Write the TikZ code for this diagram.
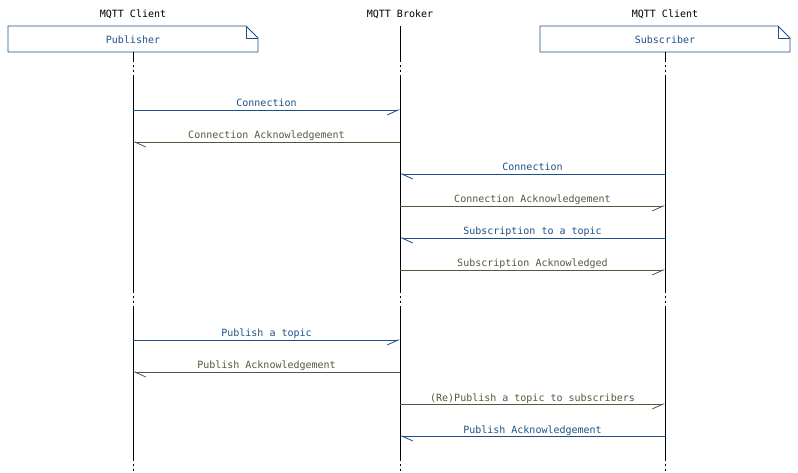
\documentclass[tikz,border=0pt]{standalone}
\usepackage{fontspec}
\setmonofont{DejaVu Sans Mono}
\usetikzlibrary{arrows.meta}
\definecolor{mblue}{RGB}{30,80,135}
\definecolor{molive}{RGB}{88,86,62}
\begin{document}
\begin{tikzpicture}[x=1bp,y=-1bp,
  font=\ttfamily\fontsize{10bp}{12bp}\selectfont,
  life/.style={black, line width=0.9bp},
  lifedash/.style={black, line width=0.9bp, dash pattern=on 2bp off 3bp},
  notebox/.style={mblue, line width=0.9bp},
  head/.style={anchor=base, inner sep=0pt, text=black},
  msg/.style={line width=0.8bp},
  mblueline/.style={msg, draw=mblue},
  moliveline/.style={msg, draw=molive},
  toright/.style={-{Straight Barb[harpoon,swap,length=11bp,width=10bp,line width=0.8bp]}},
  toleft/.style={-{Straight Barb[harpoon,length=11bp,width=10bp,line width=0.8bp]}},
  lbl/.style={midway, anchor=base, yshift=3bp, inner sep=0pt}
]
\useasboundingbox (0,0) rectangle (798,473);
% headers
\node[head] (hp) at (133,18) {MQTT Client};
\node[head] (hb) at (400,18) {MQTT Broker};
\node[head] (hs) at (665,18) {MQTT Client};
% notes
\draw[notebox] (8,26) -- (246,26) -- (258,38) -- (258,52) -- (8,52) -- cycle;
\draw[notebox] (246,26) -- (246,38) -- (258,38);
\node[text=mblue, inner sep=0pt] (npub) at (133,40) {Publisher};
\draw[notebox] (540,26) -- (778,26) -- (790,38) -- (790,52) -- (540,52) -- cycle;
\draw[notebox] (778,26) -- (778,38) -- (790,38);
\node[text=mblue, inner sep=0pt] (nsub) at (665,40) {Subscriber};
% lifelines
\foreach \x/\t in {133/52, 400/26, 665/52}{
  \draw[life] (\x,\t) -- (\x,60);
  \draw[lifedash] (\x,60) -- (\x,77);
  \draw[life] (\x,77) -- (\x,291);
  \draw[lifedash] (\x,291) -- (\x,307);
  \draw[life] (\x,307) -- (\x,459);
  \draw[lifedash] (\x,459) -- (\x,473);
}
% message endpoints
\foreach \n/\y in {1/110,2/142,3/174,4/206,5/238,6/270,7/340,8/372,9/404,10/436}{
  \coordinate (p\n) at (133,\y);
  \coordinate (b\n) at (400,\y);
  \coordinate (s\n) at (665,\y);
}
\draw[mblueline, toright] (p1) -- (b1) node[lbl, text=mblue] {Connection};
\draw[moliveline, toleft] (b2) -- (p2) node[lbl, text=molive] {Connection Acknowledgement};
\draw[mblueline, toleft] (s3) -- (b3) node[lbl, text=mblue] {Connection};
\draw[moliveline, toright] (b4) -- (s4) node[lbl, text=molive] {Connection Acknowledgement};
\draw[mblueline, toleft] (s5) -- (b5) node[lbl, text=mblue] {Subscription to a topic};
\draw[moliveline, toright] (b6) -- (s6) node[lbl, text=molive] {Subscription Acknowledged};
\draw[mblueline, toright] (p7) -- (b7) node[lbl, text=mblue] {Publish a topic};
\draw[moliveline, toleft] (b8) -- (p8) node[lbl, text=molive] {Publish Acknowledgement};
\draw[moliveline, toright] (b9) -- (s9) node[lbl, text=molive] {(Re)Publish a topic to subscribers};
\draw[mblueline, toleft] (s10) -- (b10) node[lbl, text=mblue] {Publish Acknowledgement};
\end{tikzpicture}
\end{document}
